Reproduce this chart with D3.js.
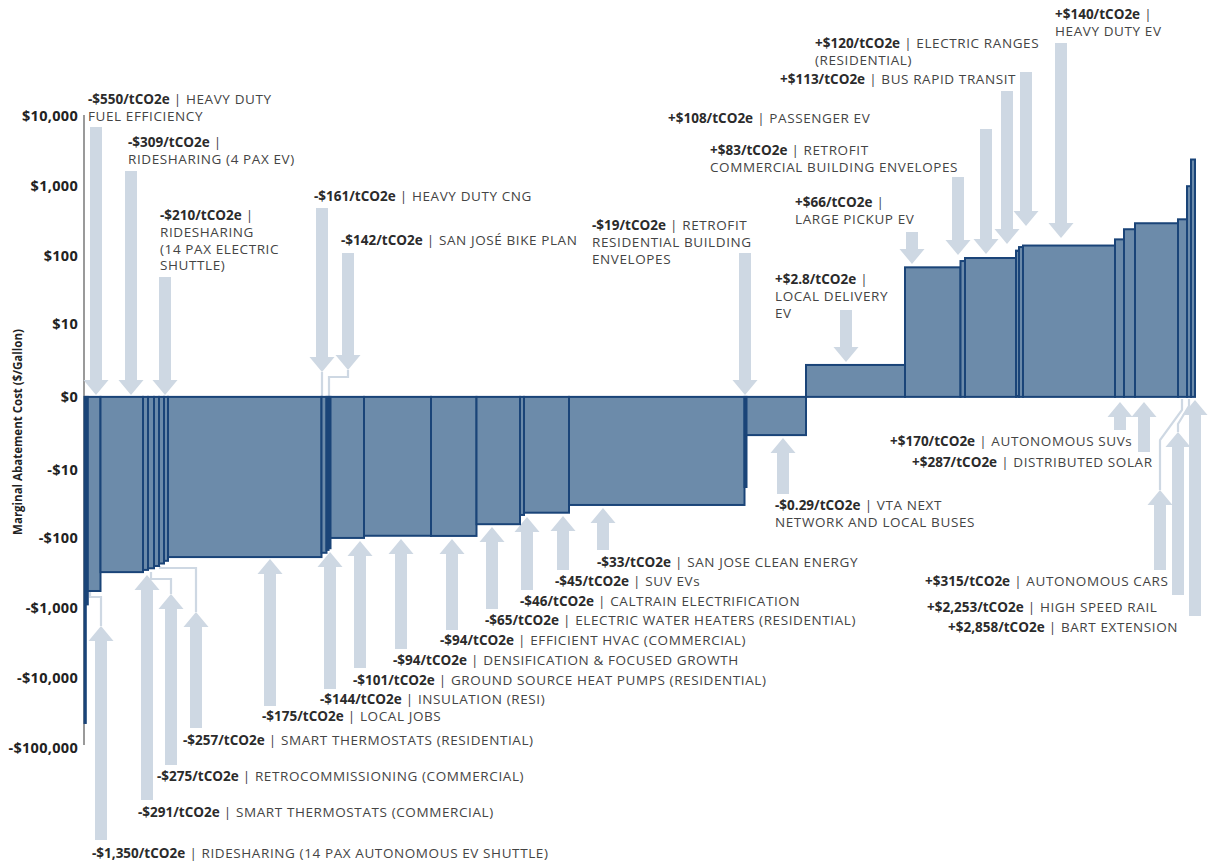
<!DOCTYPE html>
<html><head><meta charset="utf-8">
<script src="https://cdn.jsdelivr.net/npm/d3@7"></script>
<style>
html,body{margin:0;padding:0;background:#fff;}
svg{display:block;}
text{font-family:"Open Sans",sans-serif;fill:#333;}
</style></head>
<body>
<svg id="chart" width="1215" height="863"></svg>
<script>
// ---------- DATA ----------
const names = [
  "", "RIDESHARING (14 PAX AUTONOMOUS EV SHUTTLE)", "HEAVY DUTY FUEL EFFICIENCY", "RIDESHARING (4 PAX EV)",
  "SMART THERMOSTATS (COMMERCIAL)", "RETROCOMMISSIONING (COMMERCIAL)", "SMART THERMOSTATS (RESIDENTIAL)", "",
  "RIDESHARING (14 PAX ELECTRIC SHUTTLE)", "LOCAL JOBS", "HEAVY DUTY CNG", "INSULATION (RESI)", "SAN JOSÉ BIKE PLAN",
  "GROUND SOURCE HEAT PUMPS (RESIDENTIAL)", "DENSIFICATION & FOCUSED GROWTH", "EFFICIENT HVAC (COMMERCIAL)",
  "ELECTRIC WATER HEATERS (RESIDENTIAL)", "CALTRAIN ELECTRIFICATION", "SUV EVs", "SAN JOSE CLEAN ENERGY",
  "RETROFIT RESIDENTIAL BUILDING ENVELOPES", "VTA NEXT NETWORK AND LOCAL BUSES", "LOCAL DELIVERY EV",
  "LARGE PICKUP EV", "RETROFIT COMMERCIAL BUILDING ENVELOPES", "PASSENGER EV", "BUS RAPID TRANSIT",
  "ELECTRIC RANGES (RESIDENTIAL)", "HEAVY DUTY EV", "AUTONOMOUS SUVs", "", "DISTRIBUTED SOLAR",
  "AUTONOMOUS CARS", "HIGH SPEED RAIL", "BART EXTENSION"
];
const costLabels = [
  "", "-$1,350/tCO2e", "-$550/tCO2e", "-$309/tCO2e", "-$291/tCO2e", "-$275/tCO2e", "-$257/tCO2e", "",
  "-$210/tCO2e", "-$175/tCO2e", "-$161/tCO2e", "-$144/tCO2e", "-$142/tCO2e", "-$101/tCO2e", "-$94/tCO2e",
  "-$94/tCO2e", "-$65/tCO2e", "-$46/tCO2e", "-$45/tCO2e", "-$33/tCO2e", "-$19/tCO2e", "-$0.29/tCO2e",
  "+$2.8/tCO2e", "+$66/tCO2e", "+$83/tCO2e", "+$108/tCO2e", "+$113/tCO2e", "+$120/tCO2e", "+$140/tCO2e",
  "+$170/tCO2e", "", "+$287/tCO2e", "+$315/tCO2e", "+$2,253/tCO2e", "+$2,858/tCO2e"
];
// abatement (bar width, relative units)
const abatement = [
  1.3, 2.0, 12.7, 42.5, 5, 6, 5, 5, 4, 153.5, 5, 2, 2, 33.5, 67, 45.5, 43.5, 4, 45, 175.5, 2, 59.5,
  99, 55.5, 4.5, 51, 3, 4, 92, 9, 11, 43, 9, 4, 4
];
// marginal abatement cost ($/Gallon, bar height)
const cost = [
  -44000, -900, -580, -312, -290, -275, -255, -235, -215, -190, -165, -150, -142, -101, -94, -94.5, -64,
  -47, -43.6, -33.6, -18.2, -2.5, 1.85, 69, 85, 94, 120, 135, 142, 174, 243, 296, 337, 1000, 2400
];
const yTicks = [10000, 1000, 100, 10, 0, -10, -100, -1000, -10000, -100000];
const yTickLabels = ["$10,000", "$1,000", "$100", "$10", "$0", "-$10", "-$100", "-$1,000", "-$10,000", "-$100,000"];
const yTitle = "Marginal Abatement Cost ($/Gallon)";

// ---------- LAYOUT (annotation placement) ----------
// dir: arrow direction; ax: arrow x; tail/tip: y; tx/ty: text pos; br: words per line; conn: connector
const notes = [
  {i:2, dir:"down", ax:96, tail:127, tip:395, tx:88, ty:104, br:[2,2]},
  {i:3, dir:"down", ax:131, tail:171, tip:395, tx:128, ty:147, br:[0,4]},
  {i:8, dir:"down", ax:165, tail:277, tip:395, tx:160, ty:220, br:[0,1,3,1]},
  {i:10, dir:"down", ax:322, tail:208, tip:372, tx:314, ty:201, br:[3], conn:[[322,372],[322,396]]},
  {i:12, dir:"down", ax:348, tail:253, tip:370, tx:341, ty:245, br:[4], conn:[[348,370],[348,377],[329,377],[329,396]]},
  {i:20, dir:"down", ax:745, tail:253, tip:395, tx:592, ty:230, br:[1,2,1]},
  {i:22, dir:"down", ax:846, tail:310, tip:362, tx:775, ty:284, br:[0,2,1]},
  {i:23, dir:"down", ax:912, tail:232, tip:264, tx:795, ty:207, br:[0,3]},
  {i:24, dir:"down", ax:958, tail:177, tip:255, tx:710, ty:155, br:[1,3]},
  {i:25, dir:"down", ax:986, tail:129, tip:254, tx:668, ty:123, br:[2]},
  {i:26, dir:"down", ax:1007, tail:91, tip:244, tx:780, ty:84, br:[3]},
  {i:27, dir:"down", ax:1026, tail:72, tip:226, tx:815, ty:48, br:[2,1]},
  {i:28, dir:"down", ax:1061, tail:43, tip:238, tx:1055, ty:19, br:[0,3]},
  {i:1, dir:"up", ax:101, tail:840, tip:626, tx:92, ty:858, br:[6], conn:[[101,626],[101,597],[90,597],[90,592]]},
  {i:4, dir:"up", ax:147, tail:800, tip:575, tx:138, ty:817, br:[3]},
  {i:5, dir:"up", ax:171, tail:765, tip:594, tx:157, ty:781, br:[2], conn:[[171,594],[171,579],[151,579],[151,572]]},
  {i:6, dir:"up", ax:196, tail:728, tip:612, tx:183, ty:745, br:[3], conn:[[196,612],[196,568],[160,568],[160,566]]},
  {i:9, dir:"up", ax:270, tail:706, tip:559, tx:262, ty:721, br:[2]},
  {i:11, dir:"up", ax:330, tail:689, tip:552, tx:320, ty:704, br:[2]},
  {i:13, dir:"up", ax:360, tail:668, tip:541, tx:353, ty:685, br:[5]},
  {i:14, dir:"up", ax:401, tail:649, tip:539, tx:393, ty:665, br:[4]},
  {i:15, dir:"up", ax:452, tail:630, tip:539, tx:440, ty:645, br:[3]},
  {i:16, dir:"up", ax:492, tail:609, tip:527, tx:485, ty:625, br:[4]},
  {i:17, dir:"up", ax:527, tail:590, tip:517, tx:520, ty:606, br:[2]},
  {i:18, dir:"up", ax:563, tail:570, tip:516, tx:555, ty:586, br:[2]},
  {i:19, dir:"up", ax:603, tail:550, tip:508, tx:597, ty:567, br:[4]},
  {i:21, dir:"up", ax:783, tail:494, tip:438, tx:775, ty:510, br:[2,4]},
  {i:29, dir:"up", ax:1120, tail:430, tip:402, tx:890, ty:446, br:[2]},
  {i:31, dir:"up", ax:1144, tail:452, tip:402, tx:912, ty:467, br:[2]},
  {i:32, dir:"up", ax:1160, tail:570, tip:490, tx:925, ty:586, br:[2], conn:[[1160,490],[1160,440],[1182,410],[1182,399]]},
  {i:33, dir:"up", ax:1178, tail:595, tip:432, tx:927, ty:612, br:[3], conn:[[1178,432],[1178,424],[1189,406],[1189,399]]},
  {i:34, dir:"up", ax:1195, tail:616, tip:400, tx:948, ty:632, br:[2]}
];

// ---------- CHART ----------
const svg = d3.select("#chart");
const total = d3.sum(abatement);
const cum = d3.cumsum(abatement);
const starts = abatement.map((w, k) => cum[k] - w);

const x = d3.scaleLinear().domain([0, total]).range([84.5, 1195]);
const y = d3.scaleSymlog().constant(1).domain([10000, -100000]).range([116, 748]);

const arrowColor = "#ced8e3";
const fillColor = "#6c8baa";
const strokeColor = "#1a4478";

// y axis
const axisG = svg.append("g").attr("transform", "translate(84,0)");
axisG.append("line").attr("x1", 0).attr("x2", 0).attr("y1", y(10000) - 1).attr("y2", y(-100000) - 3)
  .attr("stroke", "#9a9a9a").attr("stroke-width", 2);
axisG.selectAll("text.tick").data(yTicks).join("text")
  .attr("class", "tick")
  .attr("x", -6).attr("y", d => y(d)).attr("dy", "0.35em")
  .attr("text-anchor", "end").attr("font-weight", 700).attr("font-size", 14.5)
  .attr("letter-spacing", 0.3)
  .style("fill", "#222")
  .text((d, k) => yTickLabels[k]);

svg.append("text")
  .attr("transform", "translate(22,432) rotate(-90)")
  .attr("text-anchor", "middle").attr("font-weight", 700).attr("font-size", 11.5)
  .style("fill", "#222")
  .text(yTitle);

// connectors & arrows (behind bars)
const annG = svg.append("g");
notes.forEach(n => {
  if (n.conn) {
    annG.append("path").attr("d", d3.line()(n.conn))
      .attr("fill", "none").attr("stroke", arrowColor).attr("stroke-width", 2.2);
  }
  const sw = 6, hw = 12.5, hl = 15;
  const s = n.dir === "down" ? 1 : -1;
  const hb = n.tip - s * hl;
  const pts = [
    [n.ax - sw, n.tail], [n.ax + sw, n.tail], [n.ax + sw, hb], [n.ax + hw, hb],
    [n.ax, n.tip], [n.ax - hw, hb], [n.ax - sw, hb]
  ];
  annG.append("path").attr("d", d3.line()(pts) + "Z").attr("fill", arrowColor);
});

// bars
svg.append("g").selectAll("rect").data(cost).join("rect")
  .attr("x", (d, k) => x(starts[k]))
  .attr("width", (d, k) => x(cum[k]) - x(starts[k]))
  .attr("y", d => y(Math.max(0, d)))
  .attr("height", d => Math.abs(y(d) - y(0)))
  .attr("fill", fillColor)
  .attr("stroke", strokeColor)
  .attr("stroke-width", 2);

// labels
const txtG = svg.append("g");
notes.forEach(n => {
  const words = names[n.i].split(" ");
  const lines = [];
  let p = 0;
  n.br.forEach(c => { lines.push(words.slice(p, p + c).join(" ")); p += c; });
  lines.forEach((ln, k) => {
    const t = txtG.append("text").attr("x", n.tx).attr("y", n.ty + k * 16.8)
      .attr("font-size", 13.5);
    if (k === 0) {
      t.append("tspan").attr("font-weight", 700).style("fill", "#2b2b2b").text(costLabels[n.i]);
      t.append("tspan").attr("letter-spacing", 0.6).style("fill", "#444").text(" | " + ln);
    } else {
      t.append("tspan").attr("letter-spacing", 0.6).style("fill", "#444").text(ln);
    }
  });
});
</script>
</body></html>
